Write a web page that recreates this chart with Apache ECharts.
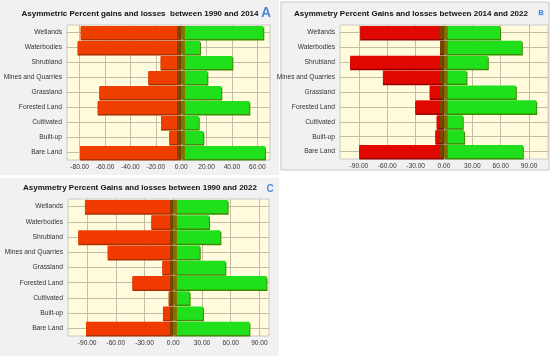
<!DOCTYPE html>
<html><head><meta charset="utf-8">
<script src="https://cdn.jsdelivr.net/npm/echarts@6/dist/echarts.min.js"></script>
<style>html,body{margin:0;padding:0;background:#fff}#c{width:550px;height:356px}</style>
</head><body><div id="c"></div>
<script>
const categories = ['Wetlands','Waterbodies','Shrubland','Mines and Quarries','Grassland','Forested Land','Cultivated','Built-up','Bare Land'];
const lossA = [-79.2,-81.6,-16.2,-25.9,-64.5,-65.8,-15.9,-9.4,-79.7];
const gainA = [64.7,14.8,40.3,20.6,31.6,53.7,13.8,17.4,66];
const lossB = [-88.6,-4.2,-99.2,-64.6,-15.1,-30.3,-7.7,-9.1,-89.6];
const gainB = [59.3,82.3,46.3,23.7,76,97.5,19.8,21.2,83.3];
const lossC = [-92.3,-22.9,-99.2,-68.5,-11.4,-42.7,-4.8,-10.8,-91.2];
const gainC = [56.8,37.3,49.2,27.6,54.4,97.3,17.1,31,79.5];
const ticksA = [-80,-60,-40,-20,0,20,40,60];
const ticksBC = [-90,-60,-30,0,30,60,90];
const titleA = 'Asymmetric Percent gains and losses  between 1990 and 2014';
const titleB = 'Asymmetry Percent Gains and losses between 2014 and 2022';
const titleC = 'Asymmetry Percent Gains and losses between 1990 and 2022';

const panels = [
  {loss: lossA, gain: gainA, ticks: ticksA, min: -90, max: 70, grid: {left: 67, top: 25, width: 203, height: 135}, red: '#ee3f00', redDark: '#a83000', band: 3.2},
  {loss: lossB, gain: gainB, ticks: ticksBC, min: -110, max: 110, grid: {left: 340, top: 25, width: 208, height: 134}, red: '#e00800', redDark: '#960000', band: 4.2},
  {loss: lossC, gain: gainC, ticks: ticksBC, min: -110, max: 100, grid: {left: 68, top: 199, width: 201, height: 137}, red: '#f03a00', redDark: '#a83000', band: 3.9}
];
const green = '#1fe01a', greenDark = '#3c8a00', bandRed = '#7a4c00', bandGreen = '#8c7c00';
const gridLine = '#c4bda6';

function lossItem(v, p) {
  const f = Math.min(1, p.band / Math.abs(v));
  return {value: v, itemStyle: {
    color: new echarts.graphic.LinearGradient(0, 0, 1, 0, [
      {offset: 0, color: p.red}, {offset: 1 - f, color: p.red},
      {offset: 1 - f, color: bandRed}, {offset: 1, color: '#6a4400'}]),
    shadowColor: p.redDark, shadowOffsetY: 1.5, shadowBlur: 0}};
}
function gainItem(v, p) {
  const f = Math.min(1, p.band / Math.abs(v));
  return {value: v, itemStyle: {
    color: new echarts.graphic.LinearGradient(0, 0, 1, 0, [
      {offset: 0, color: '#7a6400'}, {offset: f, color: bandGreen},
      {offset: f, color: green}, {offset: 1, color: green}]),
    shadowColor: greenDark, shadowOffsetY: 1.5, shadowOffsetX: 1, shadowBlur: 0}};
}

const grids = [], xAxes = [], yAxes = [], series = [];
panels.forEach((p, i) => {
  grids.push(Object.assign({show: true, backgroundColor: '#fffbdc', borderColor: '#c8c8c8', borderWidth: 1}, p.grid));
  xAxes.push({type: 'value', gridIndex: i, min: p.min, max: p.max,
    axisLine: {show: false},
    axisTick: {show: false, customValues: p.ticks},
    axisLabel: {customValues: p.ticks, formatter: v => v.toFixed(2), fontSize: 6.6, color: '#333', margin: 4, fontFamily: 'Liberation Sans'},
    splitLine: {show: true, lineStyle: {color: gridLine, width: 1}}});
  yAxes.push({type: 'category', gridIndex: i, data: categories, inverse: true,
    axisLine: {show: true, lineStyle: {color: '#b0b0b0'}},
    axisTick: {show: true, alignWithLabel: true, length: 4, lineStyle: {color: '#888'}},
    axisLabel: {fontSize: 6.7, color: '#333', margin: 5, fontFamily: 'Liberation Sans'},
    splitLine: {show: true, alignWithLabel: true, lineStyle: {color: gridLine, width: 1}}});
  series.push({type: 'bar', xAxisIndex: i, yAxisIndex: i, barWidth: '88%', barGap: '-100%',
    data: p.loss.map(v => lossItem(v, p)), silent: true});
  series.push({type: 'bar', xAxisIndex: i, yAxisIndex: i, barWidth: '88%', barGap: '-100%',
    data: p.gain.map(v => gainItem(v, p)), silent: true});
});

const titleStyle = {fontSize: 8, fontWeight: 'bold', fill: '#111', fontFamily: 'Liberation Sans', align: 'center', verticalAlign: 'middle'};
const chart = echarts.init(document.getElementById('c'), null, {renderer: 'canvas'});
chart.setOption({
  animation: false,
  backgroundColor: '#fff',
  grid: grids, xAxis: xAxes, yAxis: yAxes, series: series,
  graphic: [
    {type: 'rect', z: -10, shape: {x: 0, y: 0, width: 279, height: 175}, style: {fill: '#f1f1f1'}},
    {type: 'rect', z: -10, shape: {x: 281, y: 2, width: 268, height: 168}, style: {fill: '#f1f1f1', stroke: '#c8c8c8', lineWidth: 1}},
    {type: 'rect', z: -10, shape: {x: 0, y: 178, width: 279, height: 178}, style: {fill: '#f1f1f1'}},
    {type: 'text', x: 140, y: 14, style: Object.assign({text: titleA}, titleStyle)},
    {type: 'text', x: 411, y: 14, style: Object.assign({text: titleB}, titleStyle)},
    {type: 'text', x: 140, y: 188, style: Object.assign({text: titleC}, titleStyle)},
    {type: 'text', x: 266, y: 13, style: {text: 'A', fontSize: 14, fontWeight: 'bold', fill: '#4a86d8', fontFamily: 'Liberation Sans', align: 'center', verticalAlign: 'middle'}},
    {type: 'text', x: 541, y: 13, style: {text: 'B', fontSize: 7, fontWeight: 'bold', fill: '#4a7fd0', backgroundColor: '#d8e8f8', padding: [0, 1], fontFamily: 'Liberation Sans', align: 'center', verticalAlign: 'middle'}},
    {type: 'text', x: 270, y: 189, style: {text: 'C', fontSize: 10, fontWeight: 'bold', fill: '#5588dd', fontFamily: 'Liberation Sans', align: 'center', verticalAlign: 'middle'}}
  ]
});
</script></body></html>
